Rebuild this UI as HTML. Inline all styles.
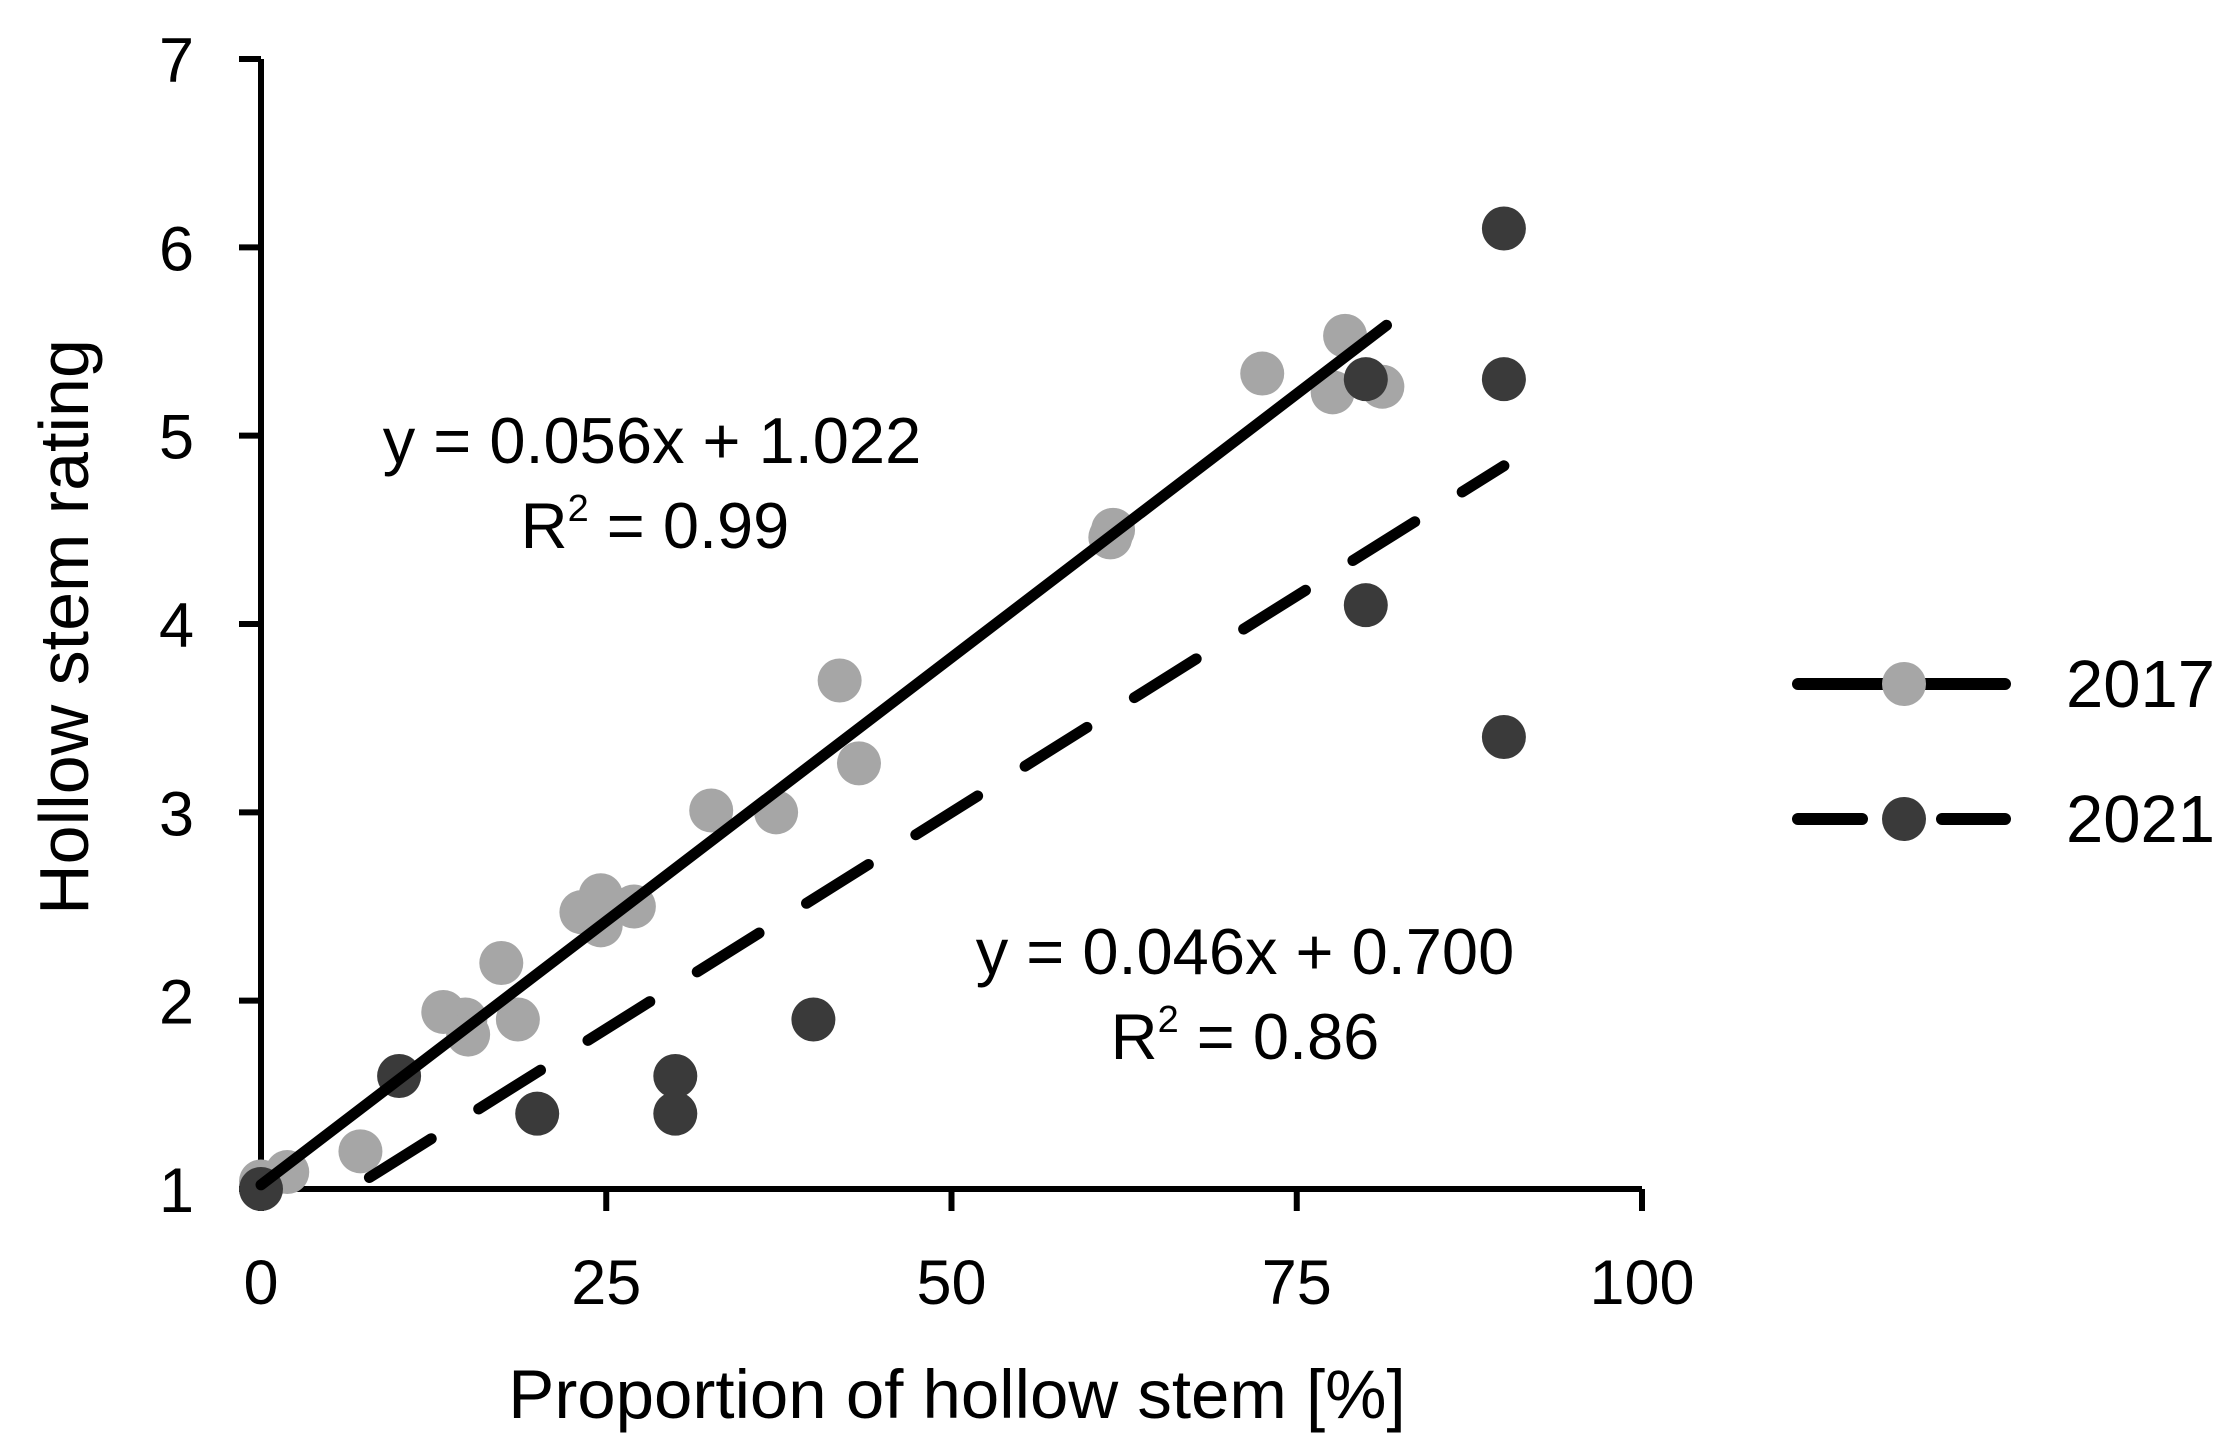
<!DOCTYPE html>
<html><head><meta charset="utf-8"><style>
html,body{margin:0;padding:0;background:#fff;}
svg{display:block;font-family:"Liberation Sans",Arial,sans-serif;}
</style></head><body>
<svg id="chart" width="2237" height="1451" viewBox="0 0 2237 1451" xmlns="http://www.w3.org/2000/svg">
<g id="grid-layer"></g>
</svg>
<script>
const xTicks = [0, 25, 50, 75, 100];
const yTicks = [1, 2, 3, 4, 5, 6, 7];
const x2017 = [0, 1.9, 7.2, 13.2, 14.8, 15, 17.4, 18.6, 23.2, 24.6, 24.6, 27, 32.6, 37.3, 41.9, 43.3, 61.5, 61.7, 72.5, 78.5, 77.6, 81.2];
const y2017 = [1.04, 1.09, 1.2, 1.94, 1.9, 1.82, 2.2, 1.9, 2.47, 2.56, 2.4, 2.5, 3.01, 3.0, 3.7, 3.26, 4.46, 4.5, 5.33, 5.53, 5.23, 5.26];
const x2021 = [0, 10, 20, 30, 30, 40, 80, 80, 90, 90, 90];
const y2021 = [1, 1.6, 1.4, 1.6, 1.4, 1.9, 4.1, 5.3, 6.1, 5.3, 3.4];
const fit2017 = [0.056, 1.022, 0, 81.5];
const fit2021 = [0.046, 0.700, 7.85, 90];

const NS = "http://www.w3.org/2000/svg";
const svg = document.getElementById('chart');
const X0 = 261, X1 = 1642, Y0 = 1189, Y1 = 59;
const sx = v => X0 + (v - 0) / 100 * (X1 - X0);
const sy = v => Y0 - (v - 1) / 6 * (Y0 - Y1);
function mk(tag, attrs) {
  const e = document.createElementNS(NS, tag);
  for (const k in attrs) e.setAttribute(k, attrs[k]);
  svg.appendChild(e);
  return e;
}
let ax = mk('path', {d: `M${X0},${Y1} V${Y0} H${X1}`, fill: 'none', stroke: '#000', 'stroke-width': 6});


yTicks.forEach(t => {
  const tk = mk('line', {x1: X0 - 22, x2: X0, y1: sy(t), y2: sy(t), stroke: '#000', 'stroke-width': 6});
  
  
  const lb = mk('text', {x: 194, y: sy(t) + 23, 'text-anchor': 'end', 'font-size': 63});
  
  
  lb.textContent = t;
});
xTicks.forEach(t => {
  const tk = mk('line', {x1: sx(t), x2: sx(t), y1: Y0, y2: Y0 + 22, stroke: '#000', 'stroke-width': 6});
  
  
  const lb = mk('text', {x: sx(t), y: 1304, 'text-anchor': 'middle', 'font-size': 63});
  
  
  lb.textContent = t;
});
x2017.forEach((v, i) => {
  const c = mk('circle', {cx: sx(v), cy: sy(y2017[i]), r: 22, fill: '#a6a6a6'});
  
  
});
x2021.forEach((v, i) => {
  const c = mk('circle', {cx: sx(v), cy: sy(y2021[i]), r: 22, fill: '#3a3a3a'});
  
  
});
let l1 = mk('line', {x1: sx(fit2017[2]), y1: sy(fit2017[1] + fit2017[0] * fit2017[2]), x2: sx(fit2017[3]), y2: sy(fit2017[1] + fit2017[0] * fit2017[3]), stroke: '#000', 'stroke-width': 11, 'stroke-linecap': 'round'});


let l2 = mk('line', {x1: sx(fit2021[2]), y1: sy(fit2021[1] + fit2021[0] * fit2021[2]), x2: sx(fit2021[3]), y2: sy(fit2021[1] + fit2021[0] * fit2021[3]), stroke: '#000', 'stroke-width': 11, 'stroke-linecap': 'round', 'stroke-dasharray': '73 56'});


</script>
<svg style="position:absolute;left:0;top:0" width="2237" height="1451">
<g font-family="Liberation Sans, Arial, sans-serif" font-size="65" fill="#000">
<text x="652" y="463" text-anchor="middle">y = 0.056x + 1.022</text>
<text x="655" y="548" text-anchor="middle">R<tspan font-size="38" dy="-27">2</tspan><tspan dy="27"> = 0.99</tspan></text>
<text x="1245" y="974" text-anchor="middle">y = 0.046x + 0.700</text>
<text x="1245" y="1059" text-anchor="middle">R<tspan font-size="38" dy="-27">2</tspan><tspan dy="27"> = 0.86</tspan></text>
<text x="957" y="1418" text-anchor="middle" font-size="69">Proportion of hollow stem [%]</text>
<text transform="translate(88,627) rotate(-90)" text-anchor="middle" font-size="70">Hollow stem rating</text>
<g>
<line x1="1798" y1="684" x2="2005" y2="684" stroke="#000" stroke-width="12" stroke-linecap="round"/>
<circle cx="1904" cy="684" r="22" fill="#a6a6a6"/>
<text x="2066" y="707" font-size="67">2017</text>
<line x1="1798" y1="819" x2="1862" y2="819" stroke="#000" stroke-width="12" stroke-linecap="round"/>
<line x1="1942" y1="819" x2="2005" y2="819" stroke="#000" stroke-width="12" stroke-linecap="round"/>
<circle cx="1904" cy="819" r="22" fill="#3a3a3a"/>
<text x="2066" y="842" font-size="67">2021</text>
</g>
</g>
</svg>
</body></html>
